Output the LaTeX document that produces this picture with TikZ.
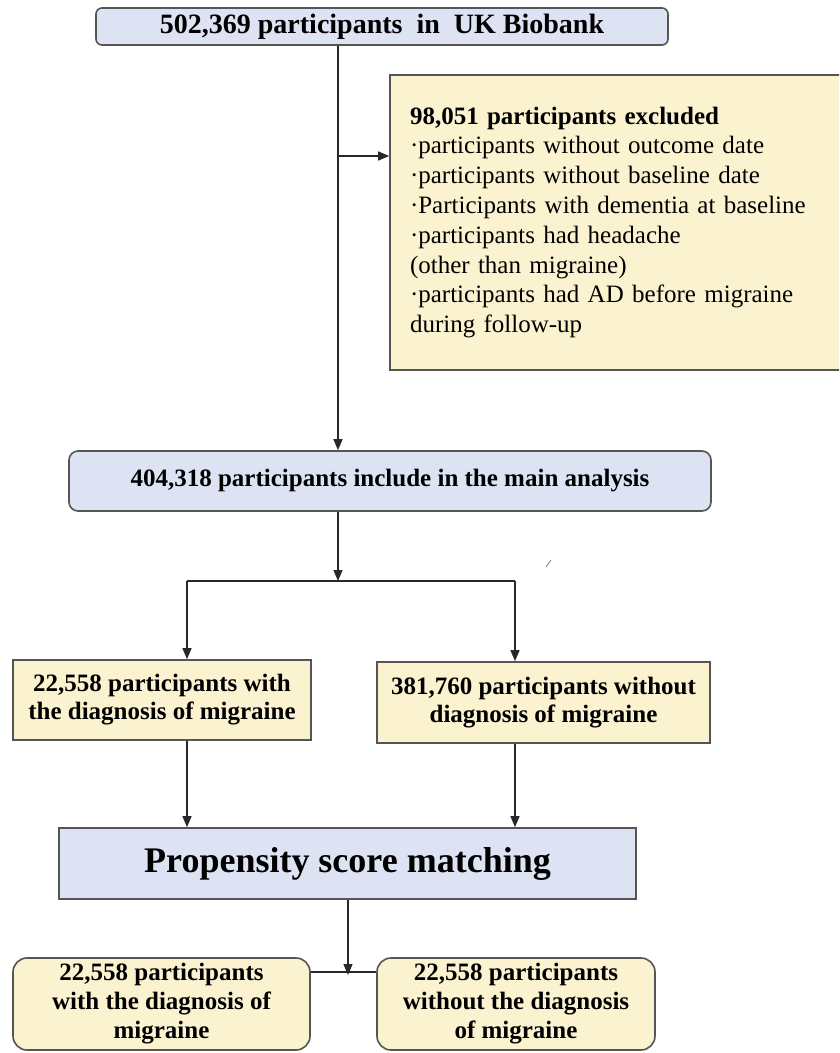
\documentclass[tikz,border=0pt]{standalone}
\usepackage{fontspec}
\setmainfont{Liberation Serif}
\usepackage{tikz}
\usetikzlibrary{arrows.meta}

\definecolor{boxblue}{RGB}{221,227,243}
\definecolor{boxyellow}{RGB}{251,242,208}
\definecolor{boxline}{RGB}{85,85,85}
\definecolor{linegray}{RGB}{40,40,40}

\tikzset{
    bluebox/.style={draw=boxline, fill=boxblue, line width=1.6pt, inner sep=0pt, align=center},
    yellowbox/.style={draw=boxline, fill=boxyellow, line width=1.6pt, inner sep=0pt, align=center},
    arr/.style={-{Triangle[length=11pt,width=9pt]}, line width=1.3pt, draw=linegray},
    conn/.style={line width=1.3pt, draw=linegray}
}

\begin{document}
\begin{tikzpicture}[x=1pt, y=-1pt]
            \useasboundingbox (0,0) rectangle (839,1053);
            \clip (0,0) rectangle (839,1053);

            \node [bluebox, rounded corners=6pt, minimum width=572pt, minimum height=37pt,
                   font=\bfseries\fontsize{28}{32}\selectfont] (uk) at (382,26.5)
                  {502,369 participants\ \ in\ \ UK Biobank};

            \node [yellowbox, minimum width=470pt, minimum height=295pt, text width=430pt, align=left,
                   font=\fontsize{25}{29.8}\selectfont] (excl) at (625,222.5)
                  {\textbf{98,051 participants excluded}\\
                   ·participants\ without\ outcome date\\
                   ·participants\ without\ baseline\ date\\
                   ·Participants\ with\ dementia\ at baseline\\
                   ·participants had headache\\
                   (other than migraine)\\
                   \makebox[430pt][s]{·participants had AD before migraine}\\
                   during\ follow-up};

            \node [bluebox, rounded corners=9pt, minimum width=642pt, minimum height=60pt,
                   font=\bfseries\fontsize{25}{29}\selectfont] (main) at (390,481)
                  {404,318 participants include in the main analysis};

            \node [yellowbox, minimum width=298pt, minimum height=80pt,
                   font=\bfseries\fontsize{25}{28}\selectfont] (withm) at (162,700)
                  {22,558 participants with\\the diagnosis of migraine};
            \node [yellowbox, minimum width=333pt, minimum height=81pt,
                   font=\bfseries\fontsize{25}{28}\selectfont] (nom) at (543.5,702.5)
                  {381,760 participants without\\diagnosis of migraine};

            \node [bluebox, minimum width=577pt, minimum height=71pt,
                   font=\bfseries\fontsize{36}{40}\selectfont] (psm) at (347.5,863.5)
                  {Propensity score matching};

            \node [yellowbox, rounded corners=14pt, minimum width=297pt, minimum height=92pt,
                   font=\bfseries\fontsize{25}{29}\selectfont] (mwith) at (161.5,1004)
                  {22,558 participants\\with the diagnosis of\\migraine};
            \node [yellowbox, rounded corners=14pt, minimum width=278pt, minimum height=92pt,
                   font=\bfseries\fontsize{25}{29}\selectfont] (mwithout) at (516,1004)
                  {22,558 participants\\without the diagnosis\\of migraine};

            \coordinate (trunk) at (338,156);
            \coordinate (forkL) at (187,581);
            \coordinate (forkR) at (515,581);
            \coordinate (fork) at (338,581);
            \coordinate (join) at (348,972);

            \draw [arr] (uk.south -| trunk) -- (main.north -| trunk);
            \draw [arr] (trunk) -- (excl.west |- trunk);

            \draw [arr] (main.south -| fork) -- (fork);
            \draw [conn] (forkL) -- (forkR);
            \draw [arr] (forkL) -- (withm.north -| forkL);
            \draw [arr] (forkR) -- (nom.north -| forkR);

            \draw [arr] (withm.south -| forkL) -- (psm.north -| forkL);
            \draw [arr] (nom.south -| forkR) -- (psm.north -| forkR);

            \draw [arr] (psm.south -| join) -- ([yshift=-3pt]join);
            \draw [conn] (mwith.east |- join) -- (mwithout.west |- join);

            \draw [line width=0.8pt, draw=gray] (546,567) -- (551,560);
        \end{tikzpicture}
\end{document}
